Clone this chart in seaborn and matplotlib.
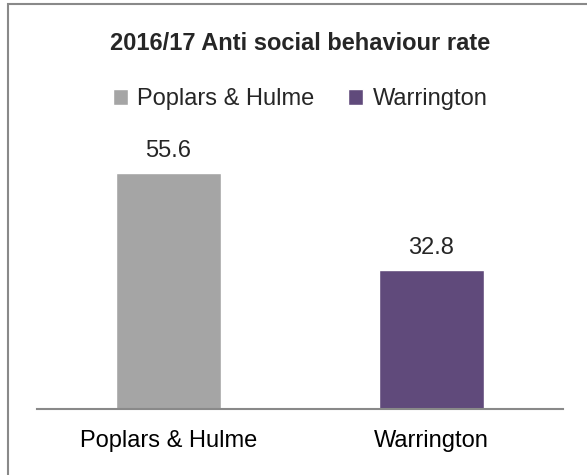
import matplotlib
matplotlib.use("Agg")
import pandas as pd
import seaborn as sns
import matplotlib.pyplot as plt
from matplotlib.patches import Patch, Rectangle

# data
areas = ["Poplars & Hulme", "Warrington"]
rates = [55.6, 32.8]
colours = ["#A5A5A5", "#604A7B"]

df = pd.DataFrame({"Area": areas, "Rate": rates})

sns.set_style("white")
plt.rcParams['font.family'] = ['Liberation Sans', 'DejaVu Sans']

fig = plt.figure(figsize=(5.87, 4.75), dpi=100)
ax = fig.add_axes([37 / 587, 1 - 409 / 475, 526 / 587, (409 - 154.3) / 475])

sns.barplot(data=df, x="Area", y="Rate", hue="Area", palette=colours,
            width=0.4, legend=False, ax=ax, saturation=1)

ax.set_ylim(0, 60)
ax.set_xlim(-0.5, 1.5)
ax.set_xlabel("")
ax.set_ylabel("")
ax.set_yticks([])
for s in ["top", "right", "left"]:
    ax.spines[s].set_visible(False)
ax.spines["bottom"].set_color("#898989")
ax.spines["bottom"].set_linewidth(1.5)
ax.tick_params(axis="x", length=0, pad=15, labelsize=17, labelcolor="black")

for c in ax.containers:
    ax.bar_label(c, fmt="%.1f", padding=8, fontsize=17)

# title
fig.text(300 / 587, 1 - 50 / 475, "2016/17 Anti social behaviour rate",
         ha="center", va="baseline", fontsize=17, fontweight="bold")

# legend
handles = [Patch(facecolor=colours[i], label=areas[i]) for i in range(2)]
fig.legend(handles=handles, loc="center", bbox_to_anchor=(300 / 587, 1 - 99 / 475),
           ncol=2, frameon=False, fontsize=17, handlelength=0.65, handleheight=0.65,
           handletextpad=0.4, columnspacing=1.4, borderpad=0)

# outer border (clipped on right and bottom like the source)
fig.patches.append(Rectangle((8 / 587, -0.1), 2, 1.1 - 4 / 475, transform=fig.transFigure,
                             fill=False, edgecolor="#898989", linewidth=1.5))

fig.savefig("out.png", dpi=100)
